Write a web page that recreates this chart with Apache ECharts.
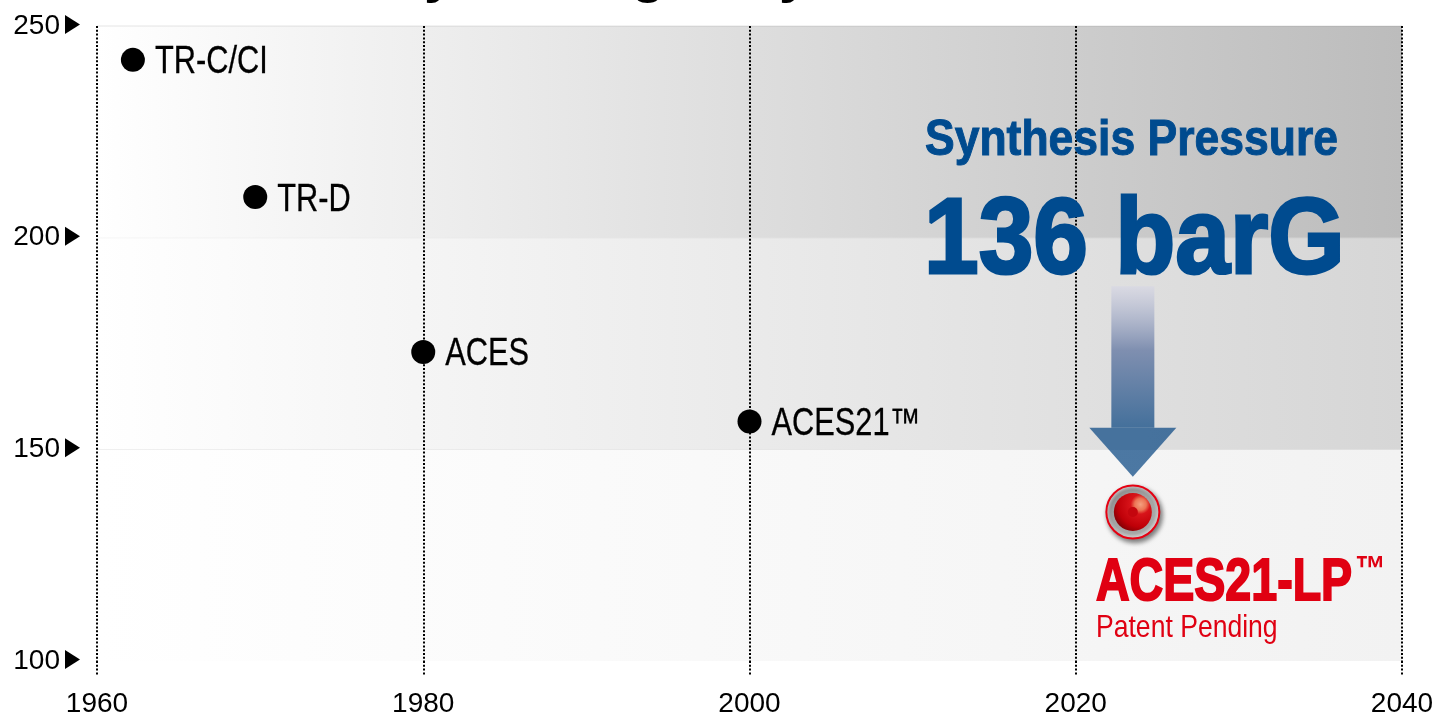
<!DOCTYPE html>
<html>
<head>
<meta charset="utf-8">
<title>Synthesis Pressure</title>
<script src="https://cdn.jsdelivr.net/npm/echarts@6/dist/echarts.min.js"></script>
<style>
html,body{margin:0;padding:0;background:#fff;}
#main{width:1434px;height:714px;}
</style>
</head>
<body>
<div id="main"></div>
<script>
var processNames = ['TR-C/CI','TR-D','ACES','ACES21™'];
var processYears = [1962.2,1969.7,1980,2000];
var processPressures = [242,209.6,173,156.6];
var lpYear = 2023.5;
var lpPressure = 135.2;
var arrowFrom = 188.5;
var arrowTo = 143.5;
var xTicks = [1960,1980,2000,2020,2040];
var yTicks = [100,150,200,250];
var bandEdges = [100,150,200,250];
var bandColors = ['#f2f2f2','#d6d6d6','#bcbcbc'];

// Helvetica condensed is not installed, so big texts are squeezed with scaleX
var FONT = '"Liberation Sans",sans-serif';
var BLUE = '#004b8f';
var RED = '#e00012';
var DOTS = {color:'#000',type:[2,1.8],width:2};

var points = [];
for(var i = 0;i<processNames.length;i++){
	points.push({name:processNames[i],value:[processYears[i],processPressures[i]]});
}
var bands = [];
for(var j = 0;j<bandColors.length;j++){
	bands.push([bandEdges[j],bandEdges[j+1],bandColors[j]]);
}

function renderBand(params,api){
	var lt = api.coord([xTicks[0],api.value(1)]);
	var rb = api.coord([xTicks[xTicks.length-1],api.value(0)]);
	return {
		type:'group',
		children:[{
			type:'rect',
			shape:{x:lt[0],y:lt[1],width:rb[0]-lt[0],height:rb[1]-lt[1]},
			style:{fill:new echarts.graphic.LinearGradient(0,0,1,0,[
				{offset:0,color:'#ffffff'},
				{offset:1,color:bands[params.dataIndex][2]}
			])}
		},{
			type:'line',
			shape:{x1:lt[0],y1:lt[1],x2:rb[0],y2:lt[1]},
			style:{stroke:'rgba(0,0,0,0.10)',lineWidth:1}
		}]
	};
}

function renderArrow(params,api){
	var top = api.coord([api.value(0),api.value(1)]);
	var tip = api.coord([api.value(0),api.value(2)]);
	var shaftHalf = 21.5, headHalf = 43.5, headLen = 49;
	return {
		type:'group',
		children:[{
			type:'rect',
			shape:{x:top[0]-shaftHalf,y:top[1],width:shaftHalf*2,height:tip[1]-headLen-top[1]},
			style:{fill:new echarts.graphic.LinearGradient(0,0,0,1,[
				{offset:0,color:'rgba(215,215,228,0.7)'},
				{offset:0.45,color:'#7f8fb0'},
				{offset:1,color:'#44709b'}
			])}
		},{
			type:'polygon',
			shape:{points:[[tip[0]-headHalf,tip[1]-headLen],[tip[0]+headHalf,tip[1]-headLen],[tip[0],tip[1]]]},
			style:{fill:'rgba(16,76,134,0.74)'}
		}]
	};
}

function renderPointLabel(params,api){
	var c = api.coord([api.value(0),api.value(1)]);
	return {
		type:'text',
		x:c[0]+22,
		y:c[1]+3,
		scaleX:0.81,
		style:{
			text:processNames[params.dataIndex],
			fill:'#000',
			stroke:'#000',
			lineWidth:0.3,
			font:'38px '+FONT,
			verticalAlign:'middle',
			align:'left'
		}
	};
}

// the little triangle after each y tick label
function renderTickMark(params,api){
	var c = api.coord([xTicks[0],api.value(0)]);
	var x0 = c[0]-32, x1 = c[0]-17, y = c[1]-1.5;
	return {
		type:'polygon',
		shape:{points:[[x0,y-9.5],[x1,y],[x0,y+9.5]]},
		style:{fill:'#000'}
	};
}

function scaledText(text,x,y,size,sx,color,weight,extra){
	var style = {
		text:text,
		fill:color,
		font:weight+' '+size+'px '+FONT,
		verticalAlign:'top',
		align:'left'
	};
	for(var k in extra){
		style[k] = extra[k];
	}
	return {type:'text',x:x,y:y,scaleX:sx,z:20,style:style};
}

var mychart = echarts.init(document.getElementById('main'));
var option = {
	animation:false,
	backgroundColor:'#ffffff',
	grid:{left:97,right:32,top:26,bottom:53,outerBoundsMode:'none'},
	xAxis:{
		type:'value',
		min:1960,
		max:2040,
		interval:20,
		z:2,
		axisLine:{show:false},
		axisTick:{show:true,length:15,lineStyle:DOTS},
		axisLabel:{
			margin:29,
			color:'#000',
			fontFamily:FONT,
			fontSize:28,
			showMinLabel:true,
			showMaxLabel:true,
			formatter:function(v){return String(v);}
		},
		splitLine:{show:true,lineStyle:DOTS}
	},
	yAxis:{
		type:'value',
		min:100,
		max:250,
		interval:50,
		axisLine:{show:false},
		axisTick:{show:false},
		splitLine:{show:false},
		axisLabel:{
			margin:37,
			color:'#000',
			fontFamily:FONT,
			fontSize:28,
			showMinLabel:true,
			showMaxLabel:true,
			formatter:function(v){return String(v);}
		}
	},
	series:[{
		type:'custom',
		name:'bands',
		z:1,
		silent:true,
		renderItem:renderBand,
		encode:{y:[0,1]},
		data:bands.map(function(b){return [b[0],b[1]];})
	},{
		type:'custom',
		name:'tick marks',
		z:1,
		silent:true,
		clip:false,
		renderItem:renderTickMark,
		encode:{y:0},
		data:yTicks.map(function(t){return [t];})
	},{
		type:'custom',
		name:'arrow',
		z:4,
		silent:true,
		renderItem:renderArrow,
		encode:{x:0,y:[1,2]},
		data:[[lpYear,arrowFrom,arrowTo]]
	},{
		type:'scatter',
		name:'processes',
		z:5,
		symbolSize:24,
		itemStyle:{color:'#000',opacity:1},
		data:points
	},{
		type:'custom',
		name:'process labels',
		z:5,
		silent:true,
		renderItem:renderPointLabel,
		encode:{x:0,y:1},
		data:processYears.map(function(y,n){return [y,processPressures[n]];})
	},{
		type:'scatter',
		name:'ACES21-LP ring',
		z:5,
		symbolSize:53,
		itemStyle:{
			color:new echarts.graphic.RadialGradient(0.5,0.5,0.5,[
				{offset:0,color:'#777'},
				{offset:0.8,color:'#aaa'},
				{offset:1,color:'#eee'}
			]),
			borderColor:'#e60012',
			borderWidth:2,
			shadowColor:'rgba(0,0,0,0.5)',
			shadowBlur:5,
			shadowOffsetX:2,
			shadowOffsetY:3,
			opacity:1
		},
		data:[[lpYear,lpPressure]]
	},{
		type:'scatter',
		name:'ACES21-LP',
		z:6,
		symbolSize:38,
		itemStyle:{
			color:new echarts.graphic.RadialGradient(0.7,0.3,0.85,[
				{offset:0,color:'#f4a080'},
				{offset:0.18,color:'#ec7454'},
				{offset:0.3,color:'#d8141a'},
				{offset:0.7,color:'#bf0008'},
				{offset:1,color:'#6f0004'}
			]),
			opacity:1
		},
		data:[[lpYear,lpPressure]]
	},{
		type:'scatter',
		name:'ACES21-LP core',
		z:7,
		silent:true,
		symbolSize:10,
		itemStyle:{color:'#c4060e',opacity:1},
		data:[[lpYear,lpPressure]]
	}],
	graphic:[
		// a title line is cut off by the top edge, only these descenders show
		{type:'text',x:424,y:4,z:20,style:{text:'y',fill:'#000',font:'bold 56px '+FONT,verticalAlign:'bottom'}},
		{type:'text',x:631,y:4,z:20,style:{text:'g',fill:'#000',font:'bold 56px '+FONT,verticalAlign:'bottom'}},
		{type:'text',x:779,y:4,z:20,style:{text:'y',fill:'#000',font:'bold 56px '+FONT,verticalAlign:'bottom'}},
		scaledText('Synthesis Pressure',925,116,50,0.89,BLUE,'bold',{stroke:BLUE,lineWidth:1,shadowColor:'#fff',shadowBlur:9}),
		scaledText('136 barG',924,189,108,0.91,BLUE,'bold',{stroke:BLUE,lineWidth:3,shadowColor:'#fff',shadowBlur:9}),
		scaledText('ACES21-LP',1096,553,60,0.776,RED,'bold',{stroke:RED,lineWidth:2}),
		scaledText('™',1355,553,36,0.85,RED,'bold',{}),
		scaledText('Patent Pending',1096,612,32,0.83,RED,'normal',{})
	]
};
mychart.setOption(option);
</script>
</body>
</html>
